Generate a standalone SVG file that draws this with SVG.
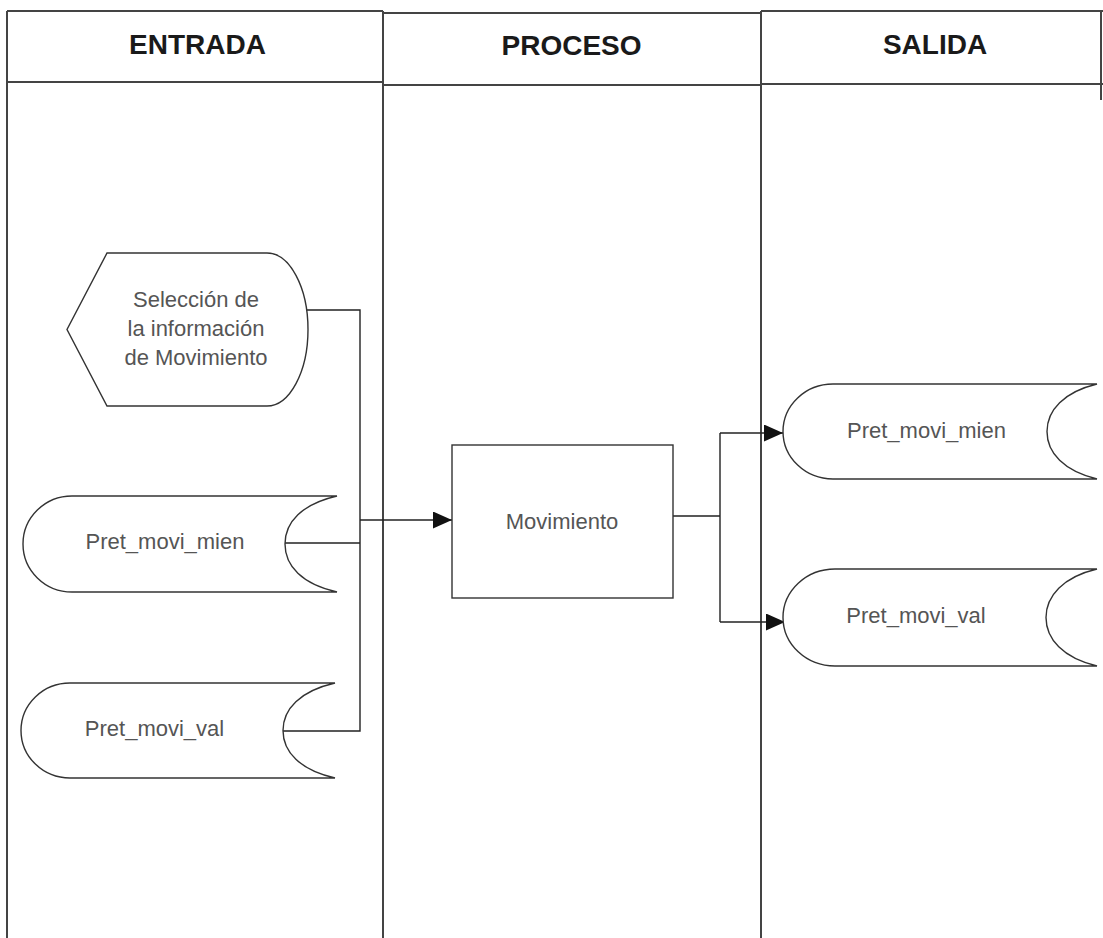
<svg xmlns="http://www.w3.org/2000/svg" width="1103" height="938" viewBox="0 0 1103 938">
<style>
.frame{stroke:#444;stroke-width:2;fill:none}
.shape{stroke:#333;stroke-width:1.4;fill:#fff}
.conn{stroke:#222;stroke-width:1.4;fill:none}
.hdr{font-family:"Liberation Sans",Arial,sans-serif;font-size:28px;font-weight:bold;fill:#1a1a1a;text-anchor:middle}
.lbl{font-family:"Liberation Sans",Arial,sans-serif;font-size:22px;fill:#555;text-anchor:middle}
</style>
<defs>
<marker id="arr" markerUnits="userSpaceOnUse" markerWidth="20" markerHeight="18" refX="19" refY="8.5" orient="auto">
<path d="M0,0 L19,8.5 L0,17 Z" fill="#111"/>
</marker>
</defs>
<rect width="1103" height="938" fill="#fff"/>
<g id="lanes">
<path class="frame" d="M7,11 H383 M7,82 H383 M383,13 H761 M383,85 H761 M761,11 H1103 M761,84 H1103"/>
<path class="frame" d="M7,11 V938 M383,11 V938 M761,11 V938 M1101,11 V100"/>
<text class="hdr" x="197.5" y="54">ENTRADA</text>
<text class="hdr" x="571.5" y="55">PROCESO</text>
<text class="hdr" x="935" y="54">SALIDA</text>
</g>
<g id="connectors">
<path class="conn" d="M306,310 H360 V731 H283"/>
<path class="conn" d="M285,543 H360"/>
<path class="conn" d="M360,520 H452" marker-end="url(#arr)"/>
<path class="conn" d="M673,516 H720 M720,433 V622"/>
<path class="conn" d="M720,433 H783" marker-end="url(#arr)"/>
<path class="conn" d="M720,622 H785" marker-end="url(#arr)"/>
</g>
<g id="display-seleccion">
<path class="shape" d="M107,253 H267 A41,76.5 0 0 1 267,406 H107 L67,329.5 Z"/>
<text class="lbl" x="196" y="307">Selección de</text>
<text class="lbl" x="196" y="336">la información</text>
<text class="lbl" x="196" y="365">de Movimiento</text>
</g>
<g id="in-pret-movi-mien">
<path class="shape" d="M72,496 H337 C302,504 285,522 285,544 C285,566 302,584 337,592 H72 A49,48 0 0 1 72,496 Z"/>
<text class="lbl" x="165" y="549">Pret_movi_mien</text>
</g>
<g id="in-pret-movi-val">
<path class="shape" d="M70,683 H335 C300,691 283,709 283,730.5 C283,752 300,770 335,778 H70 A49,47.5 0 0 1 70,683 Z"/>
<text class="lbl" x="154.5" y="736">Pret_movi_val</text>
</g>
<g id="proc-movimiento">
<rect class="shape" x="452" y="445" width="221" height="153"/>
<text class="lbl" x="562" y="529">Movimiento</text>
</g>
<g id="out-pret-movi-mien">
<path class="shape" d="M833,384 H1097 C1064,392 1047,410 1047,431.5 C1047,453 1064,471 1097,479 H833 A50,47.5 0 0 1 833,384 Z"/>
<text class="lbl" x="926.5" y="438">Pret_movi_mien</text>
</g>
<g id="out-pret-movi-val">
<path class="shape" d="M835,569 H1097 C1063,577 1046,596 1046,617.5 C1046,639 1063,658 1097,666 H835 A52,48.5 0 0 1 835,569 Z"/>
<text class="lbl" x="916" y="623">Pret_movi_val</text>
</g>
</svg>
